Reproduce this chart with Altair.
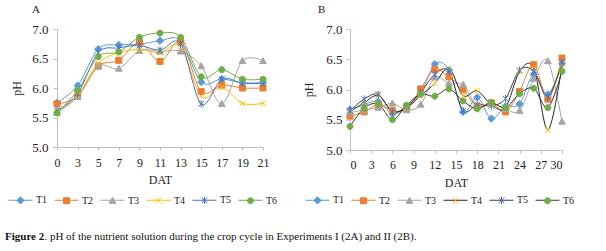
import altair as alt
import pandas as pd

series = ["T1", "T2", "T3", "T4", "T5", "T6"]

days_a = [0, 3, 5, 7, 9, 11, 13, 15, 17, 19, 21]
a_T1 = [5.75, 6.04, 6.66, 6.73, 6.74, 6.80, 6.80, 6.10, 6.15, 6.09, 6.09]
a_T2 = [5.73, 5.86, 6.37, 6.47, 6.77, 6.45, 6.78, 5.94, 6.05, 6.00, 6.00]
a_T3 = [5.58, 5.85, 6.37, 6.33, 6.63, 6.62, 6.62, 6.37, 5.73, 6.46, 6.46]
a_T4 = [5.60, 5.88, 6.42, 6.60, 6.65, 6.60, 6.70, 5.86, 6.01, 5.74, 5.74]
a_T5 = [5.62, 5.90, 6.60, 6.68, 6.72, 6.64, 6.75, 5.73, 6.15, 6.08, 6.08]
a_T6 = [5.58, 5.96, 6.53, 6.61, 6.86, 6.93, 6.86, 6.19, 6.31, 6.15, 6.15]

days_b = [0, 2, 4, 6, 8, 10, 12, 14, 16, 18, 20, 22, 24, 26, 28, 30]
b_T1 = [5.67, 5.75, 5.80, 5.60, 5.70, 5.93, 6.42, 6.32, 5.63, 5.87, 5.52, 5.72, 5.76, 6.25, 5.92, 6.43]
b_T2 = [5.56, 5.63, 5.75, 5.65, 5.68, 6.01, 6.33, 6.21, 6.00, 5.72, 5.78, 5.63, 5.97, 6.41, 5.84, 6.52]
b_T3 = [5.62, 5.66, 5.70, 5.77, 5.66, 5.75, 6.20, 6.10, 6.08, 5.72, 5.78, 5.68, 5.65, 6.18, 6.47, 5.47]
b_T4 = [5.63, 5.78, 5.90, 5.64, 5.70, 5.90, 6.10, 6.35, 5.90, 5.98, 5.75, 5.70, 6.30, 6.35, 5.33, 6.40]
b_T5 = [5.65, 5.84, 5.92, 5.63, 5.72, 5.95, 6.25, 6.30, 5.65, 5.75, 5.73, 5.85, 6.32, 6.30, 5.88, 6.45]
b_T6 = [5.39, 5.69, 5.76, 5.50, 5.74, 5.92, 5.89, 6.01, 5.81, 5.68, 5.78, 5.70, 5.93, 6.02, 5.70, 6.30]

y_ticks = [5.0, 5.5, 6.0, 6.5, 7.0]
b_x_ticks = [0, 3, 6, 9, 12, 15, 18, 21, 24, 27, 30]
caption_bold = "Figure 2"
caption_rest = ". pH of the nutrient solution during the crop cycle in Experiments I (2A) and II (2B)."

marker_colors = ["#5B9BD5", "#ED7D31", "#A5A5A5", "#FFC000", "#4472C4", "#70AD47"]
line_colors_a = marker_colors
line_colors_b = ["#5B9BD5", "#ED7D31", "#A5A5A5", "#262626", "#3F3F3F", "#333333"]
EXT = "M-1,0L-1,0M1,0L1,0"
shapes = [
    EXT + "M0,-0.3L0.3,0L0,0.3L-0.3,0Z",
    EXT + "M-0.25,-0.25H0.25V0.25H-0.25Z",
    EXT + "M0,-0.28L0.28,0.22L-0.28,0.22Z",
    EXT + "M-0.24,-0.24L0.24,0.24M-0.24,0.24L0.24,-0.24",
    EXT + "M-0.24,-0.24L0.24,0.24M-0.24,0.24L0.24,-0.24M0,-0.32L0,0.32",
    EXT + "M0.25,0A0.25,0.25,0,1,1,-0.25,0A0.25,0.25,0,1,1,0.25,0Z",
]

FONT = "Liberation Serif"
SYM = 576


def frame(days, cols):
    rows = []
    for s, vals in zip(series, cols):
        for d, v in zip(days, vals):
            rows.append({"day": d, "ph": v, "series": s})
    return pd.DataFrame(rows)


df_a = frame(days_a, [a_T1, a_T2, a_T3, a_T4, a_T5, a_T6])
df_b = frame(days_b, [b_T1, b_T2, b_T3, b_T4, b_T5, b_T6])


def legend_params(lx, ly, **kw):
    d = dict(orient="none", legendX=lx, legendY=ly, direction="horizontal",
             title=None, symbolSize=SYM, labelFont=FONT, labelFontSize=10,
             labelColor="#222222", symbolStrokeWidth=1, labelOffset=3, columnPadding=4)
    d.update(kw)
    return d


def panel(df, xenc, line_colors, title, title_dx, width, height, lx, ly, label_pad_y, title_pad_y, extra=None):
    yenc = alt.Y("ph:Q", scale=alt.Scale(domain=[5, 7], nice=False, zero=False),
                 axis=alt.Axis(values=y_ticks, format=".1f", title="pH", labelPadding=label_pad_y,
                               titlePadding=title_pad_y, labelFontSize=13))
    lines = alt.Chart(df).mark_line(interpolate="cardinal", strokeWidth=1).encode(
        x=xenc, y=yenc,
        color=alt.Color("series:N", scale=alt.Scale(domain=series, range=line_colors),
                        legend=alt.Legend(**legend_params(lx, ly, symbolType="stroke", labelOpacity=0))),
        detail="series:N",
    )
    leg = legend_params(lx, ly)
    points = alt.Chart(df).mark_point(size=SYM, opacity=1, strokeWidth=1).encode(
        x=xenc, y=yenc,
        shape=alt.Shape("series:N", scale=alt.Scale(range=shapes), legend=alt.Legend(**leg)),
        fill=alt.Fill("series:N", scale=alt.Scale(range=marker_colors), legend=alt.Legend(**leg)),
        stroke=alt.Stroke("series:N", scale=alt.Scale(range=marker_colors), legend=alt.Legend(**leg)),
    )
    layers = [lines, points] + (extra or [])
    return alt.layer(*layers).properties(
        width=width, height=height,
        title=alt.TitleParams(title, anchor="start", frame="group", dx=title_dx, offset=8, font=FONT,
                              fontSize=11, fontWeight="normal", color="#222222"),
    )


x_a = alt.X("day:O", scale=alt.Scale(type="point", padding=0),
            axis=alt.Axis(title="DAT", labelAngle=0, labelPadding=7, titlePadding=6))
x_b = alt.X("day:Q", scale=alt.Scale(domain=[0, 30], nice=False),
            axis=alt.Axis(title="DAT", values=b_x_ticks, labelPadding=6, titlePadding=7))

cap_df = pd.DataFrame({"bold": [caption_bold], "rest": [caption_rest]})
cap_bold = alt.Chart(cap_df).mark_text(align="left", baseline="alphabetic", font=FONT, fontSize=11,
                                       fontWeight="bold", color="#111111").encode(
    text="bold:N", x=alt.value(-52), y=alt.value(210.5))
cap_rest = alt.Chart(cap_df).mark_text(align="left", baseline="alphabetic", font=FONT, fontSize=11,
                                       color="#111111").encode(
    text="rest:N", x=alt.value(-52 + 39.4), y=alt.value(210.5))

chart_a = panel(df_a, x_a, line_colors_a, "A", -25, 206, 118, -49, 158.5, 5, 8, [cap_bold, cap_rest])
chart_b = panel(df_b, x_b, line_colors_b, "B", -32, 212, 121, -45, 158.5, 4, 10)

chart = alt.HConcatChart(hconcat=[chart_a, chart_b], spacing=87, bounds="flush").resolve_scale(
    color="independent", fill="independent", stroke="independent", shape="independent"
).properties(
    padding={"left": 5, "top": 4, "right": 0, "bottom": 0}
).configure_view(stroke=None).configure_axis(
    grid=False, domainColor="#BFBFBF", tickColor="#BFBFBF", tickSize=4,
    labelFont=FONT, labelFontSize=12, labelColor="#222222",
    titleFont=FONT, titleFontSize=12, titleFontWeight="normal", titleColor="#222222",
).configure_axisX(tickSize=3)

chart.save("out.html", embed_options={"renderer": "svg", "actions": False})
